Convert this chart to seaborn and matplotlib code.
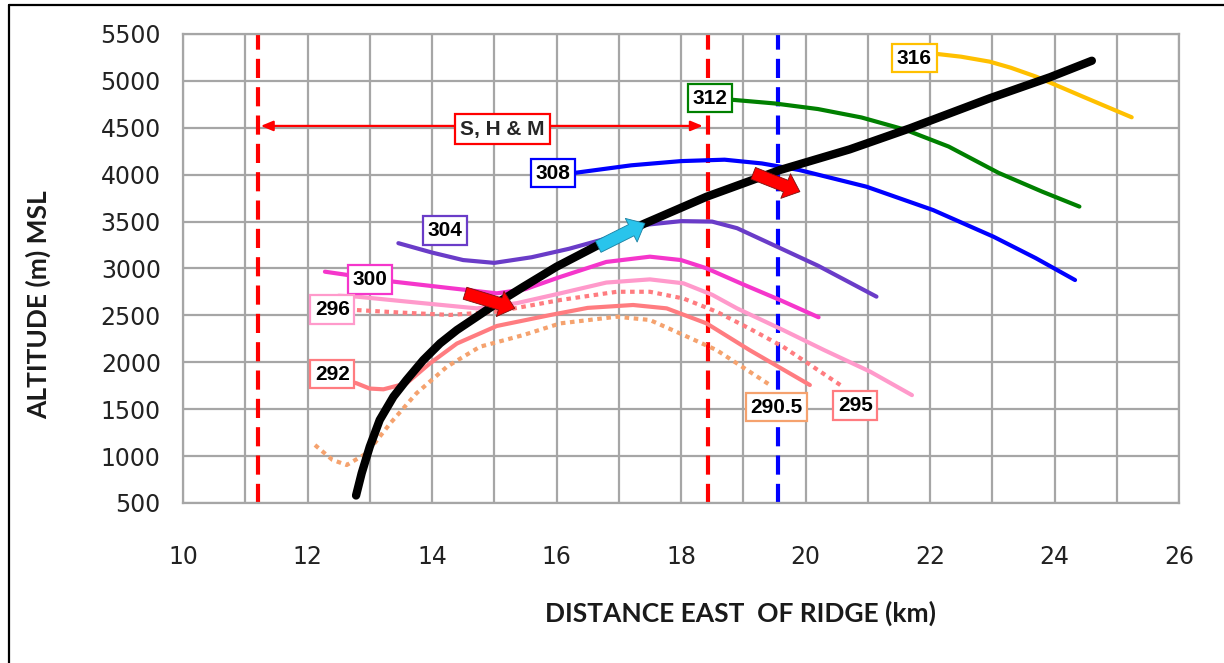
import matplotlib
matplotlib.use("Agg")
import matplotlib.pyplot as plt
from matplotlib.lines import Line2D
import seaborn as sns
import pandas as pd

# ---- data -------------------------------------------------------------
# streamline of the flight path (black)
path_x = [12.78, 12.87, 13.0, 13.16, 13.38, 13.59, 13.86, 14.13, 14.4, 14.72, 15.04,
          15.47, 16.0, 16.7, 17.42, 18.41, 19.59, 20.71, 21.68, 22.96, 23.93, 24.6]
path_y = [580, 817, 1100, 1385, 1633, 1811, 2024, 2202, 2344, 2486, 2629,
          2806, 3019, 3260, 3481, 3765, 4050, 4270, 4495, 4815, 5040, 5215]

# isentropes (potential temperature, K)
th316_x = [21.8, 22.13, 22.5, 22.96, 23.3, 23.71, 24.46, 25.24]
th316_y = [5300, 5286, 5258, 5205, 5140, 5044, 4831, 4612]

th312_x = [18.5, 18.8, 19.5, 20.2, 20.9, 21.6, 22.3, 23.1, 23.8, 24.4]
th312_y = [4820, 4800, 4760, 4700, 4610, 4480, 4300, 4020, 3820, 3660]

th308_x = [16.0, 16.3, 17.2, 18.0, 18.7, 19.3, 19.9, 20.98, 22.05, 23.02, 23.7, 24.33]
th308_y = [4018, 4020, 4100, 4145, 4160, 4120, 4050, 3872, 3623, 3339, 3110, 2877]

th304_x = [13.46, 14.0, 14.5, 15.0, 15.6, 16.2, 16.8, 17.42, 18.0, 18.5, 18.9, 19.6, 20.2, 21.14]
th304_y = [3270, 3170, 3090, 3060, 3120, 3210, 3320, 3465, 3505, 3500, 3430, 3215, 3030, 2700]

th300_x = [12.28, 13.38, 14.3, 15.04, 15.5, 16.06, 16.8, 17.5, 18.0, 18.41, 19.0, 19.59, 20.21]
th300_y = [2966, 2860, 2790, 2735, 2780, 2910, 3070, 3126, 3090, 3002, 2830, 2664, 2480]

th296_x = [12.5, 12.79, 13.86, 14.72, 15.36, 16.06, 16.8, 17.5, 18.04, 18.5, 18.9, 19.64, 20.3, 21.04, 21.71]
th296_y = [2710, 2700, 2630, 2575, 2630, 2735, 2850, 2884, 2842, 2720, 2575, 2344, 2130, 1900, 1650]

th295_x = [12.5, 12.79, 13.5, 14.29, 15.04, 16.06, 16.97, 17.5, 18.04, 18.57, 19.1, 19.64, 20.6]
th295_y = [2560, 2557, 2530, 2505, 2540, 2664, 2752, 2752, 2680, 2540, 2360, 2166, 1740]

th292_x = [12.5, 12.79, 13.0, 13.22, 13.59, 13.97, 14.4, 15.04, 15.9, 16.5, 17.23, 17.77, 18.41, 19.1, 20.07]
th292_y = [1830, 1776, 1720, 1712, 1776, 1990, 2200, 2387, 2504, 2580, 2611, 2575, 2415, 2131, 1758]

th2905_x = [12.12, 12.4, 12.63, 12.95, 13.33, 13.75, 14.24, 14.77, 15.47, 16.06, 16.97, 17.5, 18.04, 18.57, 19.43]
th2905_y = [1118, 960, 905, 1030, 1350, 1669, 1953, 2166, 2291, 2415, 2486, 2451, 2291, 2131, 1758]

# label text and anchor for each isentrope
label_text = ["316", "312", "308", "304", "300", "296", "292", "290.5", "295"]
label_x = [21.75, 18.47, 15.94, 14.21, 13.0, 12.4, 12.4, 19.53, 20.8]
label_y = [5244, 4817, 4018, 3405, 2883, 2563, 1875, 1523, 1539]

# vertical reference positions (km)
red_marks = [11.2, 18.43]
blue_marks = [19.56]
span_label = "S, H & M"
span_x = [11.25, 18.35]
span_y = 4520
span_label_pos = (15.13, 4487)

# wind-direction arrows (tail x, tail y, tip x, tip y)
arrow_tail_x = [14.53, 16.67, 19.16]
arrow_tail_y = [2736, 3232, 4015]
arrow_tip_x = [15.33, 17.42, 19.91]
arrow_tip_y = [2575, 3481, 3819]

x_ticks = list(range(10, 27, 2))
y_ticks = list(range(500, 5501, 500))

# ---- style ------------------------------------------------------------
sns.set_theme(style="whitegrid")
plt.rcParams["font.family"] = ["DejaVu Sans"]

GRID = "#a6a6a6"
C316, C312, C308, C304 = "#ffc000", "#008000", "#0000ff", "#6a3cc8"
C300, C296, C292, C2905 = "#f536cb", "#ff9acb", "#ff7c80", "#f5a26e"
LABEL_FONT = ["Liberation Sans", "DejaVu Sans"]

fig = plt.figure(figsize=(12.24, 6.63), dpi=100)
ax = fig.add_axes([183 / 1224, 1 - 503 / 663, (1179 - 183) / 1224, (503 - 34) / 663])
ax.set_facecolor("white")

series = [
    (th316_x, th316_y, C316, "-"),
    (th312_x, th312_y, C312, "-"),
    (th308_x, th308_y, C308, "-"),
    (th304_x, th304_y, C304, "-"),
    (th300_x, th300_y, C300, "-"),
    (th296_x, th296_y, C296, "-"),
    (th292_x, th292_y, C292, "-"),
    (th295_x, th295_y, C292, ":"),
    (th2905_x, th2905_y, C2905, ":"),
]

for xs, ys, col, ls in series:
    df = pd.DataFrame({"x": xs, "y": ys})
    line_ax = sns.lineplot(data=df, x="x", y="y", ax=ax, color=col, lw=3,
                           estimator=None, sort=False, zorder=3)
    line_ax.lines[-1].set_solid_joinstyle("round")
    if ls == ":":
        line_ax.lines[-1].set_dashes([1.1, 1.1])
        line_ax.lines[-1].set_dash_capstyle("butt")

# reference verticals
for xv in red_marks:
    ax.axvline(xv, color="#ff0000", lw=3, dashes=(4.6, 2.2), zorder=2)
for xv in blue_marks:
    ax.axvline(xv, color="#0000ff", lw=3, dashes=(4.6, 2.2), zorder=2)

# flight path
sns.lineplot(x=path_x, y=path_y, ax=ax, color="black", lw=6, estimator=None,
             sort=False, zorder=4)
ax.lines[-1].set_solid_joinstyle("round")
ax.lines[-1].set_solid_capstyle("round")

# span arrow
ax.annotate("", xy=(span_x[0], span_y), xytext=(span_x[1], span_y),
            arrowprops=dict(arrowstyle="<|-|>,head_length=0.6,head_width=0.25",
                            color="#ff0000", lw=1.6, shrinkA=0, shrinkB=0), zorder=5)
ax.text(span_label_pos[0], span_label_pos[1], span_label, ha="center", va="center",
        fontsize=15, fontweight="bold", family=LABEL_FONT,
        bbox=dict(boxstyle="square,pad=0.25", fc="white", ec="#ff0000", lw=1.6), zorder=6)

# block arrows
arrow_cols = ["#ff0000", "#29c4ec", "#ff0000"]
for tx, ty, hx, hy, c in zip(arrow_tail_x, arrow_tail_y, arrow_tip_x, arrow_tip_y, arrow_cols):
    ax.annotate("", xy=(hx, hy), xytext=(tx, ty),
                arrowprops=dict(arrowstyle="simple,head_length=0.55,head_width=0.95,tail_width=0.45",
                                fc=c, ec="#7a1010" if c == "#ff0000" else "#1a7fa0", lw=0.6,
                                shrinkA=0, shrinkB=0, mutation_scale=20), zorder=7)

# isentrope labels
label_cols = [C316, C312, C308, C304, C300, C296, C292, C2905, C292]
for t, lx, ly, c in zip(label_text, label_x, label_y, label_cols):
    ax.text(lx, ly, t, ha="center", va="center", fontsize=15,
            fontweight="bold", family=LABEL_FONT, color="black",
            bbox=dict(boxstyle="square,pad=0.22", fc="white", ec=c, lw=1.6), zorder=6)

# axes, grid
ax.set_xlim(10, 26)
ax.set_ylim(500, 5500)
ax.set_xticks(x_ticks)
ax.set_xticks(list(range(11, 26, 2)), minor=True)
ax.set_yticks(y_ticks)
ax.grid(True, which="both", color=GRID, lw=1.6)
ax.tick_params(axis="both", which="both", length=0)
ax.tick_params(axis="x", pad=30, labelsize=17, labelcolor="#222222")
ax.tick_params(axis="y", pad=16, labelsize=17, labelcolor="#222222")
for s in ax.spines.values():
    s.set_color(GRID)
    s.set_linewidth(1.6)
    s.set_visible(True)

ax.set_xlabel("DISTANCE EAST  OF RIDGE (km)", fontsize=19, fontweight="bold",
              family=["Lato", "DejaVu Sans"], color="#1a1a1a")
ax.xaxis.set_label_coords(0.56, -0.2345)
ax.xaxis.label.set_va("center")
ax.set_ylabel("ALTITUDE (m) MSL", fontsize=19, fontweight="bold",
              family=["Lato", "DejaVu Sans"], color="#1a1a1a")
ax.yaxis.set_label_coords(-0.1456, 0.422)
ax.yaxis.label.set_va("center")

# outer frame (left and top edges)
fig.add_artist(Line2D([9 / 1224, 9 / 1224], [0, 1 - 5 / 663], color="black", lw=1.6,
                      transform=fig.transFigure))
fig.add_artist(Line2D([9 / 1224, 1], [1 - 5 / 663, 1 - 5 / 663], color="black", lw=1.6,
                      transform=fig.transFigure))

fig.savefig("out.png", dpi=100, facecolor="white")
